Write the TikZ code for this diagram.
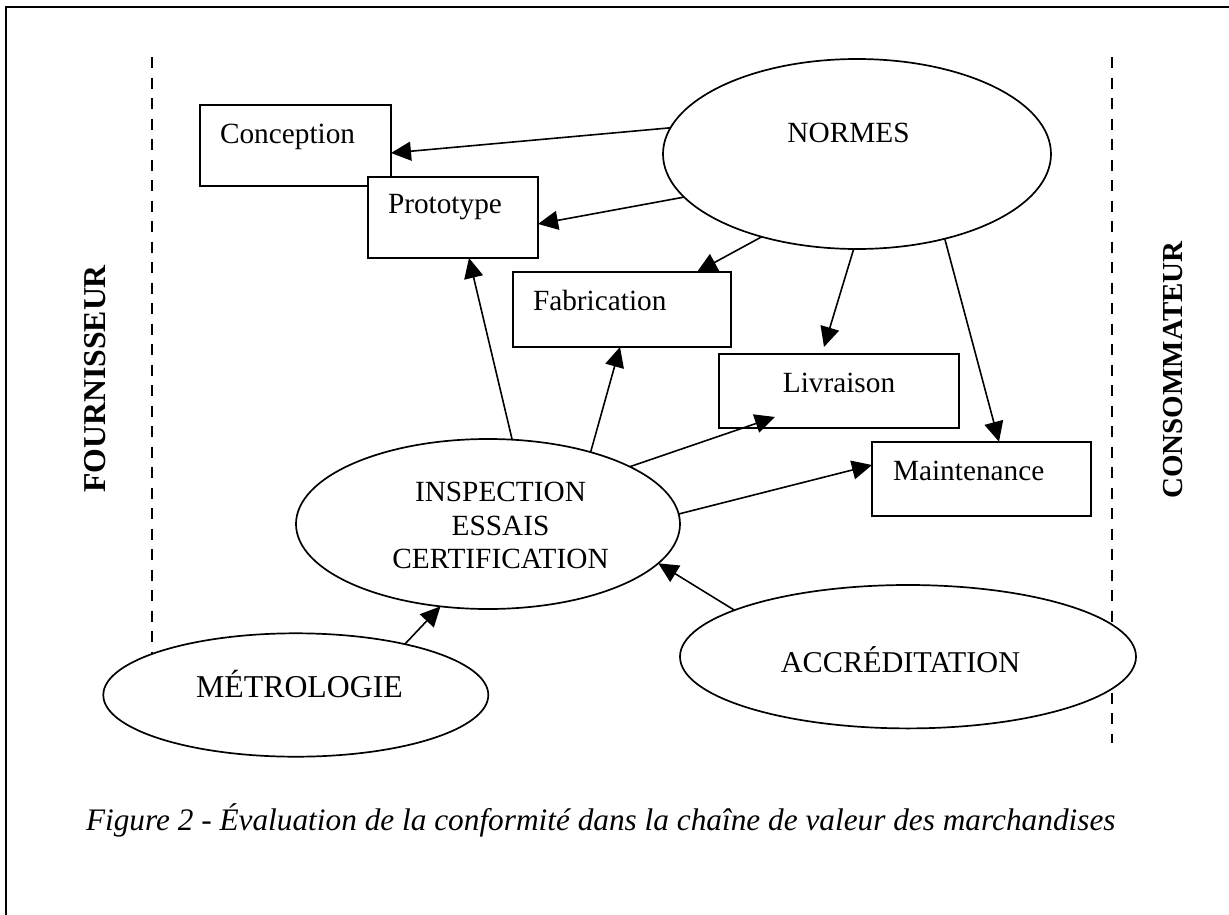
\documentclass[tikz,border=0pt]{standalone}
\usepackage{fontspec}
\setmainfont{Liberation Serif}
\usetikzlibrary{shapes.geometric,arrows.meta}

% font size helper: size and line spacing in big points
\newcommand\fsz[2]{\fontsize{#1bp}{#2bp}\selectfont}

\begin{document}
\begin{tikzpicture}[x=1bp,y=-1bp,
  every node/.style={inner sep=0pt, outer sep=0pt},
  stage/.style={draw, line width=1.7bp, fill=white, rectangle},
  pole/.style={draw, line width=1.7bp, fill=white, ellipse},
  tag/.style={font=\fsz{29.3}{33.6}},
  side/.style={font=\bfseries\fsz{#1}{#1}, rotate=90},
  arr/.style={line width=1.6bp, -{Triangle[length=20bp,width=19bp]}},
  divider/.style={line width=1.5bp, dash pattern=on 11bp off 9.5bp},
]
\useasboundingbox (0,0) rectangle (1229,915);

% page frame (top and left edges)
\draw[line width=2.3bp, line join=miter] (6,915) -- (6,7) -- (1229,7);

% supplier / consumer boundaries
\draw[divider] (152,57) -- (152,700);
\draw[divider] (1112,57) -- (1112,743);

% side labels
\node[side=31.8] (fourn) at (95,379) {FOURNISSEUR};
\node[side=29] (consom) at (1173,370) {CONSOMMATEUR};

% value chain stages
\node[stage, minimum width=191bp, minimum height=81bp] (conc) at (295.5,145.5) {};
\node[tag, anchor=base west] (conc-t) at (220,143) {Conception};
\node[stage, minimum width=170bp, minimum height=81bp] (proto) at (453,217.5) {};
\node[tag, anchor=base west] (proto-t) at (388,213) {Prototype};
\node[stage, minimum width=218bp, minimum height=75bp] (fab) at (622,309.5) {};
\node[tag, anchor=base west] (fab-t) at (533,310) {Fabrication};
\node[stage, minimum width=240bp, minimum height=74bp] (liv) at (839,391) {};
\node[tag, anchor=base] (liv-t) at (839,392) {Livraison};
\node[stage, minimum width=219bp, minimum height=74bp] (maint) at (981.5,478.7) {};
\node[tag, anchor=base west] (maint-t) at (893,480) {Maintenance};

% conformity infrastructure
\node[pole, minimum width=388bp, minimum height=190bp] (normes) at (857,154) {};
\node[tag, anchor=base] (normes-t) at (848.5,142) {NORMES};
\node[pole, minimum width=384bp, minimum height=170bp] (insp) at (488,524) {};
\node[tag, anchor=north, align=center] (insp-t) at (500.5,482.3) {INSPECTION\\ESSAIS\\CERTIFICATION};
\node[pole, minimum width=385bp, minimum height=123.4bp] (metro) at (295.8,695) {};
\node[font=\fsz{31.8}{36}, anchor=base] (metro-t) at (299.5,697) {MÉTROLOGIE};
\node[pole, minimum width=456bp, minimum height=143.4bp] (accr) at (908,656.7) {};
\node[font=\fsz{30.2}{35}, anchor=base] (accr-t) at (900.5,672) {ACCRÉDITATION};

% caption
\node[font=\itshape\fsz{31.3}{36}, anchor=base west] (caption) at (86,830)
  {Figure 2 - Évaluation de la conformité dans la chaîne de valeur des marchandises};

% standards feed every stage
\draw[arr] (normes.172.8) -- ([yshift=-7.5bp]conc.east);
\draw[arr] (normes.194.4) -- ([yshift=-6.5bp]proto.east);
\draw[arr] (normes.221.4) -- ([xshift=75bp]fab.north);
\draw[arr] (normes.268) -- ([xshift=-15bp,yshift=7bp]liv.north);
\draw[arr] (normes.316.3) -- ([xshift=17.5bp]maint.north);

% inspection, testing and certification of the stages
\draw[arr] (insp.74.6) -- ([xshift=16bp]proto.south);
\draw[arr] (insp.35.3) -- ([xshift=-2bp]fab.south);
\draw[arr] (insp.22.3) -- ([xshift=-64bp,yshift=11bp]liv.south);
\draw[arr] (insp.3.4) -- ([yshift=13.7bp]maint.west);

% metrology and accreditation support
\draw[arr] (metro.25.3) -- (insp.240.8);
\draw[arr] (accr.165.2) -- (insp.347.2);
\end{tikzpicture}
\end{document}
